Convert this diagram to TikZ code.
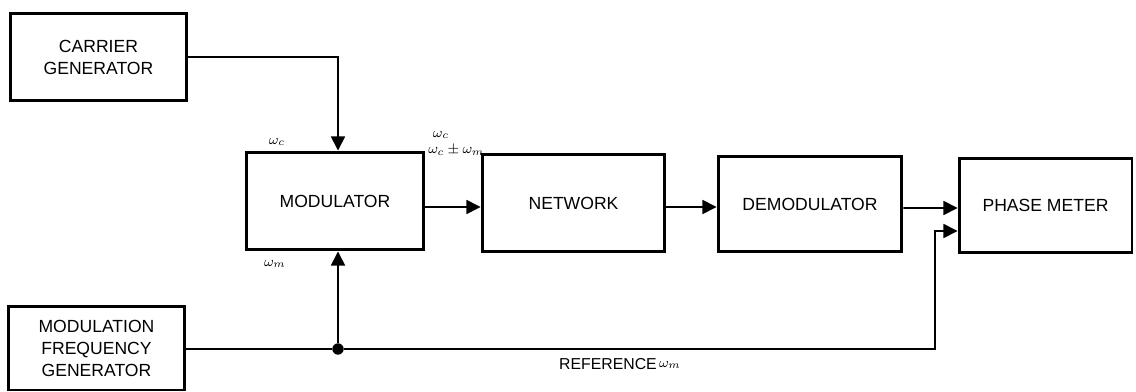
\documentclass[tikz,border=0pt]{standalone}
\usepackage{fontspec}
\setmainfont{Liberation Sans}
\usetikzlibrary{arrows.meta,calc}
\begin{document}
\begin{tikzpicture}[x=0.02cm,y=-0.02cm,
  blk/.style={draw,line width=1.7pt,align=center,font=\fontsize{10}{12.5}\selectfont,inner sep=0pt},
  conn/.style={line width=0.9pt},
  arr/.style={conn,-{Triangle[length=8pt,width=8pt]}},
  lbl/.style={font=\footnotesize,inner sep=0pt},
  junction/.style={circle,fill,inner sep=0pt,minimum size=6.5pt}]
\useasboundingbox (0,0) rectangle (1136,392);
\node[blk,minimum width=3.54cm,minimum height=1.74cm] (carrier) at (98.5,57) {CARRIER\\GENERATOR};
\node[blk,minimum width=3.56cm,minimum height=1.96cm] (mod) at (335,201) {MODULATOR};
\node[blk,minimum width=3.66cm,minimum height=1.94cm] (net) at (573.5,203) {NETWORK};
\node[blk,minimum width=3.68cm,minimum height=1.92cm] (demod) at (810,204) {DEMODULATOR};
\node[blk,minimum width=3.46cm,minimum height=1.90cm] (phase) at (1045.5,205.5) {PHASE METER};
\node[blk,minimum width=3.54cm,minimum height=1.68cm] (mfg) at (96.5,348) {MODULATION\\FREQUENCY\\GENERATOR};
\node[junction] (j) at (338,349) {};
\coordinate (rc) at (935,349);
% connectors
\draw[arr] (carrier.east) -| (j |- mod.north);
\draw[arr] ($(mod.east)+(0,6)$) -- ($(net.west)+(0,4)$);
\draw[arr] ($(net.east)+(0,4)$) -- ($(demod.west)+(0,3)$);
\draw[arr] ($(demod.east)+(0,4)$) -- ($(phase.west)+(0,2.5)$);
\draw[conn] (mfg.east |- j) -- (j);
\draw[arr] (j) -- (j |- mod.south);
\draw[arr] (j) -- (rc) |- ($(phase.west)+(0,25.5)$);
% labels
\node[lbl] (l1) at (277,142) {$\omega_c$};
\node[lbl] (l2) at (441,135) {$\omega_c$};
\node[lbl,anchor=west] (l3) at (428,150) {$\omega_c \pm \omega_m$};
\node[lbl] (l4) at (275,264) {$\omega_m$};
\node[font=\fontsize{9}{11}\selectfont,inner sep=0pt] (ref) at (608,364) {REFERENCE};
\node[lbl] (l5) at (670,365) {$\omega_m$};
\end{tikzpicture}
\end{document}
